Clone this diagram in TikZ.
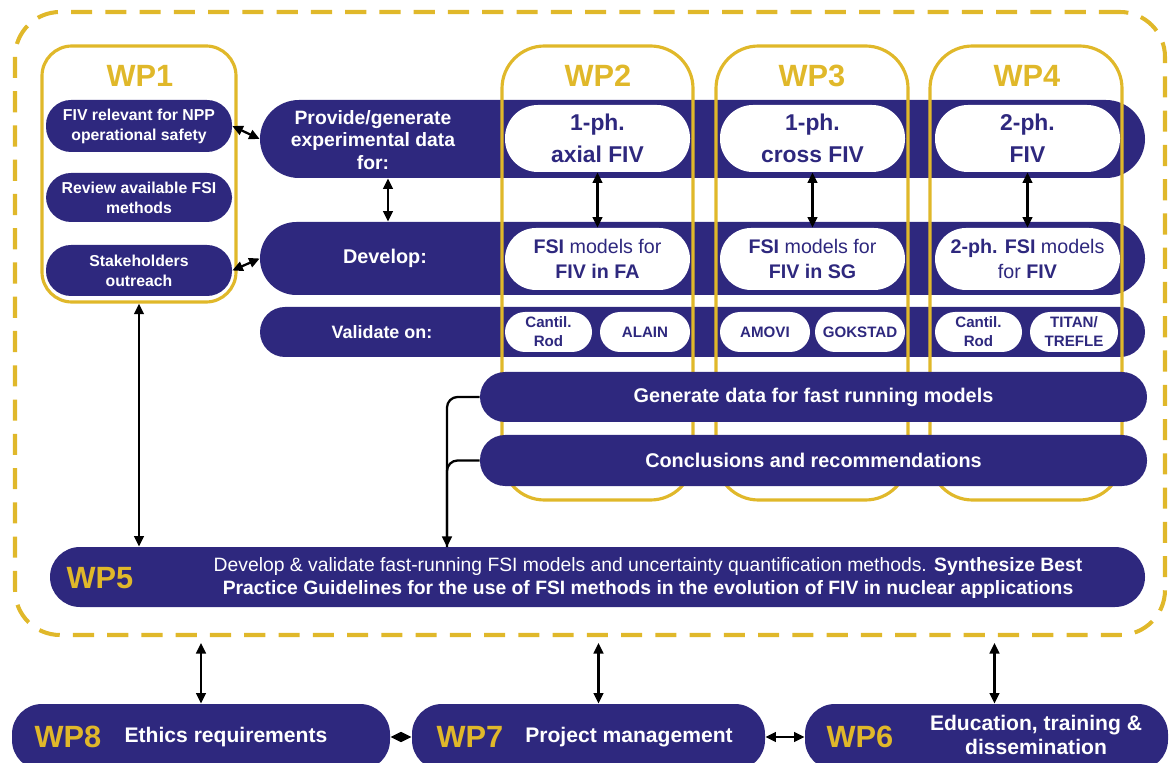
\documentclass[tikz,border=0pt]{standalone}
\usepackage{fontspec}
\setmainfont{Liberation Sans}
\usetikzlibrary{fit,arrows.meta}
\definecolor{wpnavy}{RGB}{46,40,126}
\definecolor{wpgold}{RGB}{224,184,42}
\newcommand{\fs}[2]{\fontsize{#1}{#2}\selectfont}

\begin{document}
\begin{tikzpicture}[x=0.02cm, y=-0.02cm, font=\bfseries,
    band/.style={fill=wpnavy, inner sep=0pt},
    wpill/.style={fill=white, inner sep=0pt},
    wpbox/.style={draw=wpgold, line width=1.8pt, inner sep=0pt},
    wplabel/.style={text=wpgold, font=\bfseries\fs{17.5}{19}},
    onband/.style={text=white, align=center},
    onpill/.style={text=wpnavy, align=center},
    lnk/.style={{Triangle[length=6pt,width=5.5pt]}-{Triangle[length=6pt,width=5.5pt]}, line width=1.3pt}]
    \clip (0,0) rectangle (1170,763);
    % dashed frame round WP1--WP5
    \node[fit={(15,12) (1165,635)}, draw=wpgold, line width=2.3pt, dash pattern=on 12pt off 7.5pt,
        rounded corners=0.9cm, inner sep=0pt] (frame) {};

    % the three rows
    \node[band, rounded corners=0.78cm, fit={(260,100) (1145,178)}] (row1) {};
    \node[band, rounded corners=0.73cm, fit={(260,222) (1145,295)}] (row2) {};
    \node[band, rounded corners=0.5cm, fit={(260,307) (1145,357)}] (row3) {};
    \node[onband, font=\bfseries\fs{11}{13}] (prov) at (373,140) {Provide/generate\\experimental data\\for:};
    \node[onband, font=\bfseries\fs{11.3}{13}] (dev) at (385,258) {Develop:};
    \node[onband, font=\bfseries\fs{10.2}{12}] (val) at (382,332) {Validate on:};

    % WP1
    \node[wpbox, rounded corners=0.6cm, fit={(42,46) (236,302)}] (wp1) {};
    \node[wplabel] (wp1lbl) at (140,76) {WP1};
    \node[band, rounded corners=0.5cm, fit={(46,100) (232,152)}] (fiv) {};
    \node[band, rounded corners=0.5cm, fit={(46,173) (232,222)}] (rev) {};
    \node[band, rounded corners=0.5cm, fit={(46,245) (232,296)}] (stake) {};
    \node[onband, font=\bfseries\fs{9}{11.3}] (fivtxt) at (fiv.center) {FIV relevant for NPP\\operational safety};
    \node[onband, font=\bfseries\fs{9}{11.3}] (revtxt) at (rev.center) {Review available FSI\\methods};
    \node[onband, font=\bfseries\fs{9}{11.3}] (staketxt) at (stake.center) {Stakeholders\\outreach};

    % WP2--WP4 columns
    \node[wpbox, rounded corners=0.85cm, fit={(502,46) (693,500)}] (wp2) {};
    \node[wpbox, rounded corners=0.85cm, fit={(716,46) (908,500)}] (wp3) {};
    \node[wpbox, rounded corners=0.85cm, fit={(930,46) (1122,500)}] (wp4) {};
    \node[wplabel] (wp2lbl) at (598,76) {WP2};
    \node[wplabel] (wp3lbl) at (812,76) {WP3};
    \node[wplabel] (wp4lbl) at (1027,76) {WP4};

    \node[wpill, rounded corners=0.66cm, fit={(505,105) (690,172)}] (ax) {};
    \node[wpill, rounded corners=0.66cm, fit={(720,105) (905,172)}] (cross) {};
    \node[wpill, rounded corners=0.66cm, fit={(935,105) (1120,172)}] (two) {};
    \node[onpill, font=\bfseries\fs{13}{18}] (axtxt) at (ax.center) {1-ph.\\axial FIV};
    \node[onpill, font=\bfseries\fs{13}{18}] (crosstxt) at (cross.center) {1-ph.\\cross FIV};
    \node[onpill, font=\bfseries\fs{13}{18}] (twotxt) at (two.center) {2-ph.\\FIV};

    \node[wpill, rounded corners=0.62cm, fit={(505,228) (690,290)}] (fa) {};
    \node[wpill, rounded corners=0.62cm, fit={(720,228) (905,290)}] (sg) {};
    \node[wpill, rounded corners=0.62cm, fit={(935,228) (1120,290)}] (twofsi) {};
    \node[onpill, font=\mdseries\fs{11.2}{14}] (fatxt) at (fa.center) {\textbf{FSI} models for\\\textbf{FIV in FA}};
    \node[onpill, font=\mdseries\fs{11.2}{14}] (sgtxt) at (sg.center) {\textbf{FSI} models for\\\textbf{FIV in SG}};
    \node[onpill, font=\mdseries\fs{11.2}{14}] (twofsitxt) at (twofsi.center) {\textbf{2-ph. FSI} models\\for \textbf{FIV}};

    \node[wpill, rounded corners=0.4cm, fit={(505,312) (592,352)}] (rod2) {};
    \node[wpill, rounded corners=0.4cm, fit={(600,312) (690,352)}] (alain) {};
    \node[wpill, rounded corners=0.4cm, fit={(720,312) (810,352)}] (amovi) {};
    \node[wpill, rounded corners=0.4cm, fit={(815,312) (905,352)}] (gok) {};
    \node[wpill, rounded corners=0.4cm, fit={(935,312) (1022,352)}] (rod4) {};
    \node[wpill, rounded corners=0.4cm, fit={(1030,312) (1118,352)}] (titan) {};
    \node[onpill, font=\bfseries\fs{8.6}{10.8}] (rod2txt) at (rod2.center) {Cantil.\\Rod};
    \node[onpill, font=\bfseries\fs{8.6}{10.8}] (alaintxt) at (alain.center) {ALAIN};
    \node[onpill, font=\bfseries\fs{8.6}{10.8}] (amovitxt) at (amovi.center) {AMOVI};
    \node[onpill, font=\bfseries\fs{8.6}{10.8}] (goktxt) at (gok.center) {GOKSTAD};
    \node[onpill, font=\bfseries\fs{8.6}{10.8}] (rod4txt) at (rod4.center) {Cantil.\\Rod};
    \node[onpill, font=\bfseries\fs{8.6}{10.8}] (titantxt) at (titan.center) {TITAN/\\TREFLE};

    \node[band, rounded corners=0.5cm, fit={(480,372) (1147,422)}] (gen) {};
    \node[band, rounded corners=0.5cm, fit={(480,435) (1147,486)}] (conc) {};
    \node[onband, font=\bfseries\fs{11.3}{13}] (gentxt) at (gen.center) {Generate data for fast running models};
    \node[onband, font=\bfseries\fs{11.3}{13}] (conctxt) at (conc.center) {Conclusions and recommendations};

    % WP5
    \node[band, rounded corners=0.6cm, fit={(50,547) (1145,607)}] (wp5) {};
    \node[wplabel] (wp5lbl) at (100,578) {WP5};
    \node[onband, font=\mdseries\fs{11}{13.6}] (wp5txt) at (648,578) {Develop \& validate fast-running FSI models and uncertainty quantification methods. \textbf{Synthesize Best}\\\textbf{Practice Guidelines for the use of FSI methods in the evolution of FIV in nuclear applications}};

    % WP6--WP8
    \node[band, rounded corners=0.6cm, fit={(12,704) (390,770)}] (wp8) {};
    \node[band, rounded corners=0.6cm, fit={(412,704) (765,770)}] (wp7) {};
    \node[band, rounded corners=0.6cm, fit={(805,704) (1168,770)}] (wp6) {};
    \node[wplabel] (wp8lbl) at (68,737) {WP8};
    \node[wplabel] (wp7lbl) at (470,737) {WP7};
    \node[wplabel] (wp6lbl) at (860,737) {WP6};
    \node[onband, font=\bfseries\fs{12}{14}] (eth) at (226,737) {Ethics requirements};
    \node[onband, font=\bfseries\fs{12}{14}] (pm) at (629,737) {Project management};
    \node[onband, font=\bfseries\fs{12}{14}] (edu) at (1036,735) {Education, training \&\\dissemination};

    % arrows
    \draw[lnk] (fiv.east) -- (row1.west);
    \draw[lnk] (stake.east) -- (row2.west);
    \draw[lnk] ([xshift=0.06cm]row1.south -| dev) -- ([xshift=0.06cm]row2.north -| dev);
    \draw[lnk] (ax) -- (fa);
    \draw[lnk] (cross) -- (sg);
    \draw[lnk] (two) -- (twofsi);
    \draw[lnk] (wp1.south) -- (wp1.south |- wp5.north);
    \coordinate (drop) at (447,547);
    \draw[line width=1.3pt, rounded corners=6pt, -{Triangle[length=6pt,width=5.5pt]}] (gen.west) -| (drop);
    \draw[line width=1.3pt, rounded corners=6pt] (conc.west) -| (drop);
    \draw[lnk] (wp8.north |- frame.south) ++(0,6) -- (wp8.north);
    \draw[lnk] ([xshift=0.2cm]wp7.north |- frame.south) ++(0,6) -- ([xshift=0.2cm]wp7.north);
    \draw[lnk] ([xshift=0.16cm]wp6.north |- frame.south) ++(0,6) -- ([xshift=0.16cm]wp6.north);
    \draw[lnk] (wp8.east) -- (wp7.west);
    \draw[lnk] (wp7.east) -- (wp6.west);
\end{tikzpicture}
\end{document}
